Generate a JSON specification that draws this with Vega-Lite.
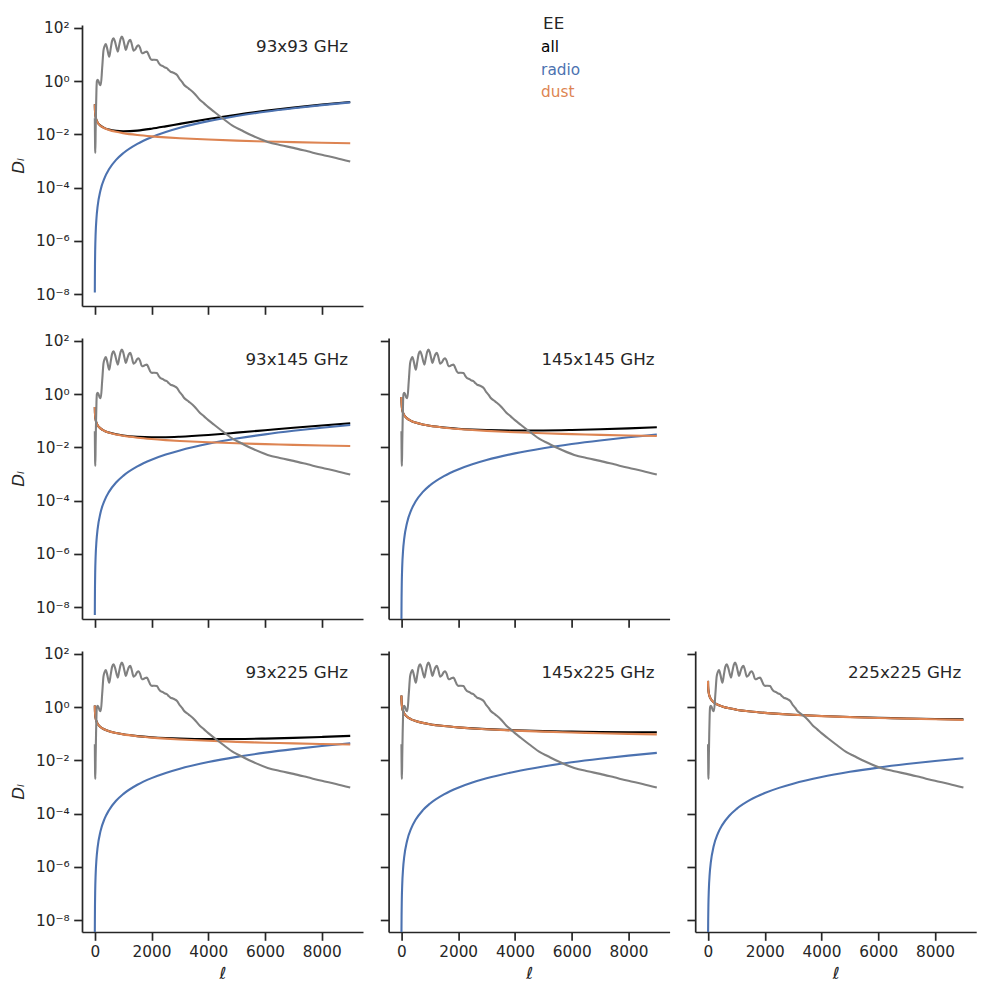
{
"$schema":"https://vega.github.io/schema/vega-lite/v6.json",
"background":"white",
"padding":{"left":10,"top":16,"right":5,"bottom":5},
"config":{"font":"DejaVu Sans","view":{"stroke":null},
"axis":{"grid":false,"domainColor":"#262626","domainWidth":1.7,"tickColor":"#262626","tickWidth":1.7,"tickSize":8.3,"labelColor":"#262626","labelFontSize":15.3,"labelPadding":4.5,"titleColor":"#262626","titleFontSize":16.7,"titleFontWeight":"normal","titleFontStyle":"italic"}},
"datasets":{
"cmb":[{"l":2,"D":0.04},{"l":6,"D":0.012},{"l":12,"D":0.003},{"l":20,"D":0.002},{"l":30,"D":0.012},{"l":45,"D":0.1},{"l":60,"D":0.5},{"l":75,"D":1.0},{"l":100,"D":1.1},{"l":130,"D":1.0},{"l":170,"D":0.75},{"l":212,"D":0.7},{"l":260,"D":3},{"l":307,"D":14},{"l":350,"D":21},{"l":390,"D":24.5},{"l":440,"D":16},{"l":508,"D":8.1},{"l":560,"D":16},{"l":610,"D":32},{"l":661,"D":40},{"l":720,"D":28},{"l":770,"D":17},{"l":812,"D":12.6},{"l":860,"D":22},{"l":910,"D":38},{"l":954,"D":46},{"l":1000,"D":37},{"l":1050,"D":22},{"l":1095,"D":14.5},{"l":1150,"D":22},{"l":1200,"D":31},{"l":1250,"D":35},{"l":1300,"D":25},{"l":1367,"D":13.7},{"l":1420,"D":15},{"l":1490,"D":20},{"l":1544,"D":22},{"l":1600,"D":17},{"l":1661,"D":11},{"l":1720,"D":11.3},{"l":1780,"D":12.3},{"l":1837,"D":12.6},{"l":1900,"D":9.5},{"l":1955,"D":7},{"l":2020,"D":6.2},{"l":2100,"D":6.3},{"l":2191,"D":6.1},{"l":2250,"D":4.8},{"l":2310,"D":4},{"l":2400,"D":3.6},{"l":2480,"D":3.2},{"l":2544,"D":3},{"l":2600,"D":2.6},{"l":2664,"D":2.25},{"l":2750,"D":2.1},{"l":2830,"D":1.9},{"l":2898,"D":1.68},{"l":3000,"D":1.15},{"l":3074,"D":0.93},{"l":3150,"D":0.71},{"l":3311,"D":0.52},{"l":3500,"D":0.35},{"l":3700,"D":0.2},{"l":3852,"D":0.145},{"l":4000,"D":0.105},{"l":4205,"D":0.07},{"l":4500,"D":0.04},{"l":4912,"D":0.0194},{"l":5147,"D":0.0145},{"l":5502,"D":0.0094},{"l":6092,"D":0.0052},{"l":6562,"D":0.0039},{"l":7000,"D":0.0031},{"l":7500,"D":0.0023},{"l":8000,"D":0.0017},{"l":8500,"D":0.0013},{"l":9000,"D":0.00095}],
"fg":[
{"s":"93x93","c":"all","l":2,"D":0.1331},{"s":"93x93","c":"all","l":4,"D":0.1008},{"s":"93x93","c":"all","l":8,"D":0.0764},{"s":"93x93","c":"all","l":15,"D":0.0594},{"s":"93x93","c":"all","l":30,"D":0.045},{"s":"93x93","c":"all","l":60,"D":0.0341},{"s":"93x93","c":"all","l":100,"D":0.0278},{"s":"93x93","c":"all","l":200,"D":0.0212},{"s":"93x93","c":"all","l":350,"D":0.0171},{"s":"93x93","c":"all","l":500,"D":0.01511},{"s":"93x93","c":"all","l":750,"D":0.01353},{"s":"93x93","c":"all","l":1000,"D":0.01303},{"s":"93x93","c":"all","l":1500,"D":0.01381},{"s":"93x93","c":"all","l":2000,"D":0.01621},{"s":"93x93","c":"all","l":2500,"D":0.01988},{"s":"93x93","c":"all","l":3000,"D":0.0247},{"s":"93x93","c":"all","l":4000,"D":0.03757},{"s":"93x93","c":"all","l":5000,"D":0.05459},{"s":"93x93","c":"all","l":6000,"D":0.07564},{"s":"93x93","c":"all","l":7000,"D":0.10067},{"s":"93x93","c":"all","l":8000,"D":0.12966},{"s":"93x93","c":"all","l":9000,"D":0.1626},
{"s":"93x93","c":"radio","l":2,"D":1.17e-8},{"s":"93x93","c":"radio","l":4,"D":3.9e-8},{"s":"93x93","c":"radio","l":8,"D":1.404e-7},{"s":"93x93","c":"radio","l":15,"D":4.68e-7},{"s":"93x93","c":"radio","l":30,"D":1.814e-6},{"s":"93x93","c":"radio","l":60,"D":7.14e-6},{"s":"93x93","c":"radio","l":100,"D":1.97e-5},{"s":"93x93","c":"radio","l":200,"D":7.84e-5},{"s":"93x93","c":"radio","l":350,"D":2.396e-4},{"s":"93x93","c":"radio","l":500,"D":4.886e-4},{"s":"93x93","c":"radio","l":750,"D":1.0986e-3},{"s":"93x93","c":"radio","l":1000,"D":1.952e-3},{"s":"93x93","c":"radio","l":1500,"D":4.391e-3},{"s":"93x93","c":"radio","l":2000,"D":7.806e-3},{"s":"93x93","c":"radio","l":2500,"D":0.012195},{"s":"93x93","c":"radio","l":3000,"D":0.01756},{"s":"93x93","c":"radio","l":4000,"D":0.03121},{"s":"93x93","c":"radio","l":5000,"D":0.04877},{"s":"93x93","c":"radio","l":6000,"D":0.07023},{"s":"93x93","c":"radio","l":7000,"D":0.09558},{"s":"93x93","c":"radio","l":8000,"D":0.12484},{"s":"93x93","c":"radio","l":9000,"D":0.158},
{"s":"93x93","c":"dust","l":2,"D":0.1331},{"s":"93x93","c":"dust","l":4,"D":0.1008},{"s":"93x93","c":"dust","l":8,"D":0.0764},{"s":"93x93","c":"dust","l":15,"D":0.0594},{"s":"93x93","c":"dust","l":30,"D":0.045},{"s":"93x93","c":"dust","l":60,"D":0.0341},{"s":"93x93","c":"dust","l":100,"D":0.0278},{"s":"93x93","c":"dust","l":200,"D":0.0211},{"s":"93x93","c":"dust","l":350,"D":0.01686},{"s":"93x93","c":"dust","l":500,"D":0.01462},{"s":"93x93","c":"dust","l":750,"D":0.01243},{"s":"93x93","c":"dust","l":1000,"D":0.01108},{"s":"93x93","c":"dust","l":1500,"D":0.00942},{"s":"93x93","c":"dust","l":2000,"D":0.0084},{"s":"93x93","c":"dust","l":2500,"D":0.00768},{"s":"93x93","c":"dust","l":3000,"D":0.00714},{"s":"93x93","c":"dust","l":4000,"D":0.00636},{"s":"93x93","c":"dust","l":5000,"D":0.00582},{"s":"93x93","c":"dust","l":6000,"D":0.00541},{"s":"93x93","c":"dust","l":7000,"D":0.00509},{"s":"93x93","c":"dust","l":8000,"D":0.00482},{"s":"93x93","c":"dust","l":9000,"D":0.0046},
{"s":"93x145","c":"all","l":2,"D":0.324},{"s":"93x145","c":"all","l":4,"D":0.2455},{"s":"93x145","c":"all","l":8,"D":0.186},{"s":"93x145","c":"all","l":15,"D":0.1447},{"s":"93x145","c":"all","l":30,"D":0.1096},{"s":"93x145","c":"all","l":60,"D":0.0831},{"s":"93x145","c":"all","l":100,"D":0.0678},{"s":"93x145","c":"all","l":200,"D":0.0514},{"s":"93x145","c":"all","l":350,"D":0.04115},{"s":"93x145","c":"all","l":500,"D":0.0358},{"s":"93x145","c":"all","l":750,"D":0.03074},{"s":"93x145","c":"all","l":1000,"D":0.02782},{"s":"93x145","c":"all","l":1500,"D":0.02486},{"s":"93x145","c":"all","l":2000,"D":0.02385},{"s":"93x145","c":"all","l":2500,"D":0.02402},{"s":"93x145","c":"all","l":3000,"D":0.02505},{"s":"93x145","c":"all","l":4000,"D":0.02912},{"s":"93x145","c":"all","l":5000,"D":0.03547},{"s":"93x145","c":"all","l":6000,"D":0.04384},{"s":"93x145","c":"all","l":7000,"D":0.05413},{"s":"93x145","c":"all","l":8000,"D":0.06626},{"s":"93x145","c":"all","l":9000,"D":0.0802},
{"s":"93x145","c":"radio","l":2,"D":5.11e-9},{"s":"93x145","c":"radio","l":4,"D":1.704e-8},{"s":"93x145","c":"radio","l":8,"D":6.13e-8},{"s":"93x145","c":"radio","l":15,"D":2.044e-7},{"s":"93x145","c":"radio","l":30,"D":7.92e-7},{"s":"93x145","c":"radio","l":60,"D":3.117e-6},{"s":"93x145","c":"radio","l":100,"D":8.6e-6},{"s":"93x145","c":"radio","l":200,"D":3.424e-5},{"s":"93x145","c":"radio","l":350,"D":1.0464e-4},{"s":"93x145","c":"radio","l":500,"D":2.134e-4},{"s":"93x145","c":"radio","l":750,"D":4.798e-4},{"s":"93x145","c":"radio","l":1000,"D":8.526e-4},{"s":"93x145","c":"radio","l":1500,"D":1.9177e-3},{"s":"93x145","c":"radio","l":2000,"D":3.409e-3},{"s":"93x145","c":"radio","l":2500,"D":5.326e-3},{"s":"93x145","c":"radio","l":3000,"D":7.669e-3},{"s":"93x145","c":"radio","l":4000,"D":0.013632},{"s":"93x145","c":"radio","l":5000,"D":0.021298},{"s":"93x145","c":"radio","l":6000,"D":0.030668},{"s":"93x145","c":"radio","l":7000,"D":0.041742},{"s":"93x145","c":"radio","l":8000,"D":0.05452},{"s":"93x145","c":"radio","l":9000,"D":0.069},
{"s":"93x145","c":"dust","l":2,"D":0.324},{"s":"93x145","c":"dust","l":4,"D":0.2455},{"s":"93x145","c":"dust","l":8,"D":0.186},{"s":"93x145","c":"dust","l":15,"D":0.1447},{"s":"93x145","c":"dust","l":30,"D":0.1096},{"s":"93x145","c":"dust","l":60,"D":0.0831},{"s":"93x145","c":"dust","l":100,"D":0.0678},{"s":"93x145","c":"dust","l":200,"D":0.0514},{"s":"93x145","c":"dust","l":350,"D":0.04105},{"s":"93x145","c":"dust","l":500,"D":0.03559},{"s":"93x145","c":"dust","l":750,"D":0.03026},{"s":"93x145","c":"dust","l":1000,"D":0.02697},{"s":"93x145","c":"dust","l":1500,"D":0.02294},{"s":"93x145","c":"dust","l":2000,"D":0.02044},{"s":"93x145","c":"dust","l":2500,"D":0.01869},{"s":"93x145","c":"dust","l":3000,"D":0.01738},{"s":"93x145","c":"dust","l":4000,"D":0.01549},{"s":"93x145","c":"dust","l":5000,"D":0.01417},{"s":"93x145","c":"dust","l":6000,"D":0.01317},{"s":"93x145","c":"dust","l":7000,"D":0.01239},{"s":"93x145","c":"dust","l":8000,"D":0.01174},{"s":"93x145","c":"dust","l":9000,"D":0.0112},
{"s":"145x145","c":"all","l":2,"D":0.7695},{"s":"145x145","c":"all","l":4,"D":0.5831},{"s":"145x145","c":"all","l":8,"D":0.4418},{"s":"145x145","c":"all","l":15,"D":0.3437},{"s":"145x145","c":"all","l":30,"D":0.2604},{"s":"145x145","c":"all","l":60,"D":0.1974},{"s":"145x145","c":"all","l":100,"D":0.1609},{"s":"145x145","c":"all","l":200,"D":0.122},{"s":"145x145","c":"all","l":350,"D":0.09754},{"s":"145x145","c":"all","l":500,"D":0.08462},{"s":"145x145","c":"all","l":750,"D":0.07208},{"s":"145x145","c":"all","l":1000,"D":0.06442},{"s":"145x145","c":"all","l":1500,"D":0.05531},{"s":"145x145","c":"all","l":2000,"D":0.05003},{"s":"145x145","c":"all","l":2500,"D":0.04672},{"s":"145x145","c":"all","l":3000,"D":0.04461},{"s":"145x145","c":"all","l":4000,"D":0.04272},{"s":"145x145","c":"all","l":5000,"D":0.04291},{"s":"145x145","c":"all","l":6000,"D":0.04461},{"s":"145x145","c":"all","l":7000,"D":0.04757},{"s":"145x145","c":"all","l":8000,"D":0.05158},{"s":"145x145","c":"all","l":9000,"D":0.0566},
{"s":"145x145","c":"radio","l":2,"D":2.22e-9},{"s":"145x145","c":"radio","l":4,"D":7.41e-9},{"s":"145x145","c":"radio","l":8,"D":2.666e-8},{"s":"145x145","c":"radio","l":15,"D":8.89e-8},{"s":"145x145","c":"radio","l":30,"D":3.444e-7},{"s":"145x145","c":"radio","l":60,"D":1.355e-6},{"s":"145x145","c":"radio","l":100,"D":3.74e-6},{"s":"145x145","c":"radio","l":200,"D":1.489e-5},{"s":"145x145","c":"radio","l":350,"D":4.55e-5},{"s":"145x145","c":"radio","l":500,"D":9.277e-5},{"s":"145x145","c":"radio","l":750,"D":2.086e-4},{"s":"145x145","c":"radio","l":1000,"D":3.707e-4},{"s":"145x145","c":"radio","l":1500,"D":8.338e-4},{"s":"145x145","c":"radio","l":2000,"D":1.482e-3},{"s":"145x145","c":"radio","l":2500,"D":2.3155e-3},{"s":"145x145","c":"radio","l":3000,"D":3.334e-3},{"s":"145x145","c":"radio","l":4000,"D":5.927e-3},{"s":"145x145","c":"radio","l":5000,"D":9.26e-3},{"s":"145x145","c":"radio","l":6000,"D":0.013334},{"s":"145x145","c":"radio","l":7000,"D":0.018149},{"s":"145x145","c":"radio","l":8000,"D":0.023704},{"s":"145x145","c":"radio","l":9000,"D":0.03},
{"s":"145x145","c":"dust","l":2,"D":0.7695},{"s":"145x145","c":"dust","l":4,"D":0.5831},{"s":"145x145","c":"dust","l":8,"D":0.4418},{"s":"145x145","c":"dust","l":15,"D":0.3437},{"s":"145x145","c":"dust","l":30,"D":0.2604},{"s":"145x145","c":"dust","l":60,"D":0.1974},{"s":"145x145","c":"dust","l":100,"D":0.1609},{"s":"145x145","c":"dust","l":200,"D":0.122},{"s":"145x145","c":"dust","l":350,"D":0.09749},{"s":"145x145","c":"dust","l":500,"D":0.08453},{"s":"145x145","c":"dust","l":750,"D":0.07187},{"s":"145x145","c":"dust","l":1000,"D":0.06405},{"s":"145x145","c":"dust","l":1500,"D":0.05448},{"s":"145x145","c":"dust","l":2000,"D":0.04855},{"s":"145x145","c":"dust","l":2500,"D":0.0444},{"s":"145x145","c":"dust","l":3000,"D":0.04128},{"s":"145x145","c":"dust","l":4000,"D":0.03679},{"s":"145x145","c":"dust","l":5000,"D":0.03365},{"s":"145x145","c":"dust","l":6000,"D":0.03128},{"s":"145x145","c":"dust","l":7000,"D":0.02942},{"s":"145x145","c":"dust","l":8000,"D":0.02788},{"s":"145x145","c":"dust","l":9000,"D":0.0266},
{"s":"93x225","c":"all","l":2,"D":1.128},{"s":"93x225","c":"all","l":4,"D":0.8549},{"s":"93x225","c":"all","l":8,"D":0.6478},{"s":"93x225","c":"all","l":15,"D":0.5039},{"s":"93x225","c":"all","l":30,"D":0.3818},{"s":"93x225","c":"all","l":60,"D":0.2894},{"s":"93x225","c":"all","l":100,"D":0.236},{"s":"93x225","c":"all","l":200,"D":0.1788},{"s":"93x225","c":"all","l":350,"D":0.143},{"s":"93x225","c":"all","l":500,"D":0.124},{"s":"93x225","c":"all","l":750,"D":0.1057},{"s":"93x225","c":"all","l":1000,"D":0.0944},{"s":"93x225","c":"all","l":1500,"D":0.0811},{"s":"93x225","c":"all","l":2000,"D":0.0734},{"s":"93x225","c":"all","l":2500,"D":0.0685},{"s":"93x225","c":"all","l":3000,"D":0.0653},{"s":"93x225","c":"all","l":4000,"D":0.0625},{"s":"93x225","c":"all","l":5000,"D":0.0628},{"s":"93x225","c":"all","l":6000,"D":0.0653},{"s":"93x225","c":"all","l":7000,"D":0.0695},{"s":"93x225","c":"all","l":8000,"D":0.0754},{"s":"93x225","c":"all","l":9000,"D":0.0826},
{"s":"93x225","c":"radio","l":2,"D":3.23e-9},{"s":"93x225","c":"radio","l":4,"D":1.077e-8},{"s":"93x225","c":"radio","l":8,"D":3.875e-8},{"s":"93x225","c":"radio","l":15,"D":1.292e-7},{"s":"93x225","c":"radio","l":30,"D":5.005e-7},{"s":"93x225","c":"radio","l":60,"D":1.97e-6},{"s":"93x225","c":"radio","l":100,"D":5.436e-6},{"s":"93x225","c":"radio","l":200,"D":2.163e-5},{"s":"93x225","c":"radio","l":350,"D":6.612e-5},{"s":"93x225","c":"radio","l":500,"D":1.3482e-4},{"s":"93x225","c":"radio","l":750,"D":3.0315e-4},{"s":"93x225","c":"radio","l":1000,"D":5.388e-4},{"s":"93x225","c":"radio","l":1500,"D":1.2118e-3},{"s":"93x225","c":"radio","l":2000,"D":2.1539e-3},{"s":"93x225","c":"radio","l":2500,"D":3.3652e-3},{"s":"93x225","c":"radio","l":3000,"D":4.8457e-3},{"s":"93x225","c":"radio","l":4000,"D":8.614e-3},{"s":"93x225","c":"radio","l":5000,"D":0.013458},{"s":"93x225","c":"radio","l":6000,"D":0.019379},{"s":"93x225","c":"radio","l":7000,"D":0.026376},{"s":"93x225","c":"radio","l":8000,"D":0.03445},{"s":"93x225","c":"radio","l":9000,"D":0.0436},
{"s":"93x225","c":"dust","l":2,"D":1.128},{"s":"93x225","c":"dust","l":4,"D":0.8549},{"s":"93x225","c":"dust","l":8,"D":0.6478},{"s":"93x225","c":"dust","l":15,"D":0.5039},{"s":"93x225","c":"dust","l":30,"D":0.3818},{"s":"93x225","c":"dust","l":60,"D":0.2894},{"s":"93x225","c":"dust","l":100,"D":0.236},{"s":"93x225","c":"dust","l":200,"D":0.1788},{"s":"93x225","c":"dust","l":350,"D":0.1429},{"s":"93x225","c":"dust","l":500,"D":0.1239},{"s":"93x225","c":"dust","l":750,"D":0.1054},{"s":"93x225","c":"dust","l":1000,"D":0.0939},{"s":"93x225","c":"dust","l":1500,"D":0.0799},{"s":"93x225","c":"dust","l":2000,"D":0.0712},{"s":"93x225","c":"dust","l":2500,"D":0.0651},{"s":"93x225","c":"dust","l":3000,"D":0.0605},{"s":"93x225","c":"dust","l":4000,"D":0.0539},{"s":"93x225","c":"dust","l":5000,"D":0.0493},{"s":"93x225","c":"dust","l":6000,"D":0.0459},{"s":"93x225","c":"dust","l":7000,"D":0.0431},{"s":"93x225","c":"dust","l":8000,"D":0.0409},{"s":"93x225","c":"dust","l":9000,"D":0.039},
{"s":"145x225","c":"all","l":2,"D":2.719},{"s":"145x225","c":"all","l":4,"D":2.06},{"s":"145x225","c":"all","l":8,"D":1.561},{"s":"145x225","c":"all","l":15,"D":1.214},{"s":"145x225","c":"all","l":30,"D":0.9203},{"s":"145x225","c":"all","l":60,"D":0.6975},{"s":"145x225","c":"all","l":100,"D":0.5687},{"s":"145x225","c":"all","l":200,"D":0.431},{"s":"145x225","c":"all","l":350,"D":0.3445},{"s":"145x225","c":"all","l":500,"D":0.2988},{"s":"145x225","c":"all","l":750,"D":0.2541},{"s":"145x225","c":"all","l":1000,"D":0.2266},{"s":"145x225","c":"all","l":1500,"D":0.193},{"s":"145x225","c":"all","l":2000,"D":0.1725},{"s":"145x225","c":"all","l":2500,"D":0.1584},{"s":"145x225","c":"all","l":3000,"D":0.148},{"s":"145x225","c":"all","l":4000,"D":0.1338},{"s":"145x225","c":"all","l":5000,"D":0.1248},{"s":"145x225","c":"all","l":6000,"D":0.1189},{"s":"145x225","c":"all","l":7000,"D":0.1155},{"s":"145x225","c":"all","l":8000,"D":0.1135},{"s":"145x225","c":"all","l":9000,"D":0.113},
{"s":"145x225","c":"radio","l":2,"D":1.407e-9},{"s":"145x225","c":"radio","l":4,"D":4.69e-9},{"s":"145x225","c":"radio","l":8,"D":1.689e-8},{"s":"145x225","c":"radio","l":15,"D":5.63e-8},{"s":"145x225","c":"radio","l":30,"D":2.181e-7},{"s":"145x225","c":"radio","l":60,"D":8.58e-7},{"s":"145x225","c":"radio","l":100,"D":2.369e-6},{"s":"145x225","c":"radio","l":200,"D":9.43e-6},{"s":"145x225","c":"radio","l":350,"D":2.881e-5},{"s":"145x225","c":"radio","l":500,"D":5.875e-5},{"s":"145x225","c":"radio","l":750,"D":1.3211e-4},{"s":"145x225","c":"radio","l":1000,"D":2.348e-4},{"s":"145x225","c":"radio","l":1500,"D":5.281e-4},{"s":"145x225","c":"radio","l":2000,"D":9.386e-4},{"s":"145x225","c":"radio","l":2500,"D":1.4665e-3},{"s":"145x225","c":"radio","l":3000,"D":2.1117e-3},{"s":"145x225","c":"radio","l":4000,"D":3.754e-3},{"s":"145x225","c":"radio","l":5000,"D":5.865e-3},{"s":"145x225","c":"radio","l":6000,"D":8.445e-3},{"s":"145x225","c":"radio","l":7000,"D":0.011494},{"s":"145x225","c":"radio","l":8000,"D":0.015013},{"s":"145x225","c":"radio","l":9000,"D":0.019},
{"s":"145x225","c":"dust","l":2,"D":2.719},{"s":"145x225","c":"dust","l":4,"D":2.06},{"s":"145x225","c":"dust","l":8,"D":1.561},{"s":"145x225","c":"dust","l":15,"D":1.214},{"s":"145x225","c":"dust","l":30,"D":0.9203},{"s":"145x225","c":"dust","l":60,"D":0.6975},{"s":"145x225","c":"dust","l":100,"D":0.5687},{"s":"145x225","c":"dust","l":200,"D":0.431},{"s":"145x225","c":"dust","l":350,"D":0.3445},{"s":"145x225","c":"dust","l":500,"D":0.2987},{"s":"145x225","c":"dust","l":750,"D":0.254},{"s":"145x225","c":"dust","l":1000,"D":0.2264},{"s":"145x225","c":"dust","l":1500,"D":0.1925},{"s":"145x225","c":"dust","l":2000,"D":0.1716},{"s":"145x225","c":"dust","l":2500,"D":0.1569},{"s":"145x225","c":"dust","l":3000,"D":0.1459},{"s":"145x225","c":"dust","l":4000,"D":0.13},{"s":"145x225","c":"dust","l":5000,"D":0.1189},{"s":"145x225","c":"dust","l":6000,"D":0.1105},{"s":"145x225","c":"dust","l":7000,"D":0.104},{"s":"145x225","c":"dust","l":8000,"D":0.0985},{"s":"145x225","c":"dust","l":9000,"D":0.094},
{"s":"225x225","c":"all","l":2,"D":9.547},{"s":"225x225","c":"all","l":4,"D":7.234},{"s":"225x225","c":"all","l":8,"D":5.481},{"s":"225x225","c":"all","l":15,"D":4.264},{"s":"225x225","c":"all","l":30,"D":3.231},{"s":"225x225","c":"all","l":60,"D":2.449},{"s":"225x225","c":"all","l":100,"D":1.997},{"s":"225x225","c":"all","l":200,"D":1.513},{"s":"225x225","c":"all","l":350,"D":1.2095},{"s":"225x225","c":"all","l":500,"D":1.0487},{"s":"225x225","c":"all","l":750,"D":0.8918},{"s":"225x225","c":"all","l":1000,"D":0.7947},{"s":"225x225","c":"all","l":1500,"D":0.6761},{"s":"225x225","c":"all","l":2000,"D":0.6029},{"s":"225x225","c":"all","l":2500,"D":0.5517},{"s":"225x225","c":"all","l":3000,"D":0.5135},{"s":"225x225","c":"all","l":4000,"D":0.4588},{"s":"225x225","c":"all","l":5000,"D":0.4212},{"s":"225x225","c":"all","l":6000,"D":0.3934},{"s":"225x225","c":"all","l":7000,"D":0.3723},{"s":"225x225","c":"all","l":8000,"D":0.3553},{"s":"225x225","c":"all","l":9000,"D":0.342},
{"s":"225x225","c":"radio","l":2,"D":8.89e-10},{"s":"225x225","c":"radio","l":4,"D":2.963e-9},{"s":"225x225","c":"radio","l":8,"D":1.067e-8},{"s":"225x225","c":"radio","l":15,"D":3.556e-8},{"s":"225x225","c":"radio","l":30,"D":1.378e-7},{"s":"225x225","c":"radio","l":60,"D":5.42e-7},{"s":"225x225","c":"radio","l":100,"D":1.496e-6},{"s":"225x225","c":"radio","l":200,"D":5.954e-6},{"s":"225x225","c":"radio","l":350,"D":1.82e-5},{"s":"225x225","c":"radio","l":500,"D":3.711e-5},{"s":"225x225","c":"radio","l":750,"D":8.344e-5},{"s":"225x225","c":"radio","l":1000,"D":1.4828e-4},{"s":"225x225","c":"radio","l":1500,"D":3.335e-4},{"s":"225x225","c":"radio","l":2000,"D":5.928e-4},{"s":"225x225","c":"radio","l":2500,"D":9.262e-4},{"s":"225x225","c":"radio","l":3000,"D":1.3337e-3},{"s":"225x225","c":"radio","l":4000,"D":2.3707e-3},{"s":"225x225","c":"radio","l":5000,"D":3.704e-3},{"s":"225x225","c":"radio","l":6000,"D":5.334e-3},{"s":"225x225","c":"radio","l":7000,"D":7.26e-3},{"s":"225x225","c":"radio","l":8000,"D":9.482e-3},{"s":"225x225","c":"radio","l":9000,"D":0.012},
{"s":"225x225","c":"dust","l":2,"D":9.547},{"s":"225x225","c":"dust","l":4,"D":7.234},{"s":"225x225","c":"dust","l":8,"D":5.481},{"s":"225x225","c":"dust","l":15,"D":4.264},{"s":"225x225","c":"dust","l":30,"D":3.231},{"s":"225x225","c":"dust","l":60,"D":2.449},{"s":"225x225","c":"dust","l":100,"D":1.997},{"s":"225x225","c":"dust","l":200,"D":1.513},{"s":"225x225","c":"dust","l":350,"D":1.2095},{"s":"225x225","c":"dust","l":500,"D":1.0487},{"s":"225x225","c":"dust","l":750,"D":0.8917},{"s":"225x225","c":"dust","l":1000,"D":0.7946},{"s":"225x225","c":"dust","l":1500,"D":0.6758},{"s":"225x225","c":"dust","l":2000,"D":0.6023},{"s":"225x225","c":"dust","l":2500,"D":0.5508},{"s":"225x225","c":"dust","l":3000,"D":0.5122},{"s":"225x225","c":"dust","l":4000,"D":0.4564},{"s":"225x225","c":"dust","l":5000,"D":0.4175},{"s":"225x225","c":"dust","l":6000,"D":0.3881},{"s":"225x225","c":"dust","l":7000,"D":0.365},{"s":"225x225","c":"dust","l":8000,"D":0.3458},{"s":"225x225","c":"dust","l":9000,"D":0.33}
]},
"columns":3,
"bounds":"flush",
"spacing":{"row":32,"column":25.6},
"concat":[
{"width":281,"height":281,"layer":[
 {"data":{"name":"fg"},"transform":[{"filter":"datum.s === '93x93'"}],"mark":{"type":"line","strokeWidth":2.1,"clip":true,"interpolate":"monotone"},
  "encoding":{"x":{"field":"l","type":"quantitative","scale":{"domain":[-450,9450],"nice":false,"zero":false},"axis":{"values":[0,2000,4000,6000,8000],"labels":false,"title":null}},
   "y":{"field":"D","type":"quantitative","scale":{"type":"log","domain":[3.64e-9,126],"nice":false},"axis":{"values":[1e-8,1e-6,1e-4,1e-2,1,100],"labelExpr":"datum.value > 10 ? '10²' : datum.value > 0.1 ? '10⁰' : datum.value > 0.001 ? '10⁻²' : datum.value > 0.00001 ? '10⁻⁴' : datum.value > 0.0000001 ? '10⁻⁶' : '10⁻⁸'","title":"Dₗ","titlePadding":8}},
   "color":{"field":"c","type":"nominal","scale":{"domain":["all","radio","dust"],"range":["#000000","#4c72b0","#dd8452"]},"legend":null}}},
 {"data":{"name":"cmb"},"mark":{"type":"line","color":"#808080","strokeWidth":2.1,"clip":true,"interpolate":"monotone"},"encoding":{"x":{"field":"l","type":"quantitative"},"y":{"field":"D","type":"quantitative"}}},
 {"data":{"values":[{"t":"93x93 GHz"}]},"mark":{"type":"text","align":"right","baseline":"alphabetic","fontSize":16.7,"color":"#262626"},"encoding":{"x":{"datum":8920},"y":{"datum":12.6},"text":{"field":"t"}}}
]},
{"width":281,"height":281,"data":{"values":[{"t":"EE"},{"t":"all"},{"t":"radio"},{"t":"dust"}]},"layer":[
 {"transform":[{"filter":"datum.t === 'EE'"}],"mark":{"type":"text","align":"left","baseline":"alphabetic","fontSize":16.7,"dx":14,"color":"#262626"},
  "encoding":{"y":{"field":"t","type":"nominal","scale":{"type":"point","domain":["EE","all","radio","dust"],"range":[4.3,72.3],"padding":0},"axis":null},"text":{"field":"t"}}},
 {"transform":[{"filter":"datum.t !== 'EE'"}],"mark":{"type":"text","align":"left","baseline":"alphabetic","fontSize":15.3,"dx":12},
  "encoding":{"y":{"field":"t","type":"nominal","axis":null},"text":{"field":"t"},"color":{"field":"t","type":"nominal","scale":{"domain":["all","radio","dust"],"range":["#000000","#4c72b0","#dd8452"]},"legend":null}}}
]},
{"width":281,"height":281,"data":{"values":[]},"mark":"text"},
{"width":281,"height":281,"layer":[
 {"data":{"name":"fg"},"transform":[{"filter":"datum.s === '93x145'"}],"mark":{"type":"line","strokeWidth":2.1,"clip":true,"interpolate":"monotone"},
  "encoding":{"x":{"field":"l","type":"quantitative","scale":{"domain":[-450,9450],"nice":false,"zero":false},"axis":{"values":[0,2000,4000,6000,8000],"labels":false,"title":null}},
   "y":{"field":"D","type":"quantitative","scale":{"type":"log","domain":[3.64e-9,126],"nice":false},"axis":{"values":[1e-8,1e-6,1e-4,1e-2,1,100],"labelExpr":"datum.value > 10 ? '10²' : datum.value > 0.1 ? '10⁰' : datum.value > 0.001 ? '10⁻²' : datum.value > 0.00001 ? '10⁻⁴' : datum.value > 0.0000001 ? '10⁻⁶' : '10⁻⁸'","title":"Dₗ","titlePadding":8}},
   "color":{"field":"c","type":"nominal","scale":{"domain":["all","radio","dust"],"range":["#000000","#4c72b0","#dd8452"]},"legend":null}}},
 {"data":{"name":"cmb"},"mark":{"type":"line","color":"#808080","strokeWidth":2.1,"clip":true,"interpolate":"monotone"},"encoding":{"x":{"field":"l","type":"quantitative"},"y":{"field":"D","type":"quantitative"}}},
 {"data":{"values":[{"t":"93x145 GHz"}]},"mark":{"type":"text","align":"right","baseline":"alphabetic","fontSize":16.7,"color":"#262626"},"encoding":{"x":{"datum":8920},"y":{"datum":12.6},"text":{"field":"t"}}}
]},
{"width":281,"height":281,"layer":[
 {"data":{"name":"fg"},"transform":[{"filter":"datum.s === '145x145'"}],"mark":{"type":"line","strokeWidth":2.1,"clip":true,"interpolate":"monotone"},
  "encoding":{"x":{"field":"l","type":"quantitative","scale":{"domain":[-450,9450],"nice":false,"zero":false},"axis":{"values":[0,2000,4000,6000,8000],"labels":false,"title":null}},
   "y":{"field":"D","type":"quantitative","scale":{"type":"log","domain":[3.64e-9,126],"nice":false},"axis":{"values":[1e-8,1e-6,1e-4,1e-2,1,100],"labels":false,"title":null}},
   "color":{"field":"c","type":"nominal","scale":{"domain":["all","radio","dust"],"range":["#000000","#4c72b0","#dd8452"]},"legend":null}}},
 {"data":{"name":"cmb"},"mark":{"type":"line","color":"#808080","strokeWidth":2.1,"clip":true,"interpolate":"monotone"},"encoding":{"x":{"field":"l","type":"quantitative"},"y":{"field":"D","type":"quantitative"}}},
 {"data":{"values":[{"t":"145x145 GHz"}]},"mark":{"type":"text","align":"right","baseline":"alphabetic","fontSize":16.7,"color":"#262626"},"encoding":{"x":{"datum":8920},"y":{"datum":12.6},"text":{"field":"t"}}}
]},
{"width":281,"height":281,"data":{"values":[]},"mark":"text"},
{"width":281,"height":281,"layer":[
 {"data":{"name":"fg"},"transform":[{"filter":"datum.s === '93x225'"}],"mark":{"type":"line","strokeWidth":2.1,"clip":true,"interpolate":"monotone"},
  "encoding":{"x":{"field":"l","type":"quantitative","scale":{"domain":[-450,9450],"nice":false,"zero":false},"axis":{"values":[0,2000,4000,6000,8000],"format":"d","title":"ℓ","titlePadding":5}},
   "y":{"field":"D","type":"quantitative","scale":{"type":"log","domain":[3.64e-9,126],"nice":false},"axis":{"values":[1e-8,1e-6,1e-4,1e-2,1,100],"labelExpr":"datum.value > 10 ? '10²' : datum.value > 0.1 ? '10⁰' : datum.value > 0.001 ? '10⁻²' : datum.value > 0.00001 ? '10⁻⁴' : datum.value > 0.0000001 ? '10⁻⁶' : '10⁻⁸'","title":"Dₗ","titlePadding":8}},
   "color":{"field":"c","type":"nominal","scale":{"domain":["all","radio","dust"],"range":["#000000","#4c72b0","#dd8452"]},"legend":null}}},
 {"data":{"name":"cmb"},"mark":{"type":"line","color":"#808080","strokeWidth":2.1,"clip":true,"interpolate":"monotone"},"encoding":{"x":{"field":"l","type":"quantitative"},"y":{"field":"D","type":"quantitative"}}},
 {"data":{"values":[{"t":"93x225 GHz"}]},"mark":{"type":"text","align":"right","baseline":"alphabetic","fontSize":16.7,"color":"#262626"},"encoding":{"x":{"datum":8920},"y":{"datum":12.6},"text":{"field":"t"}}}
]},
{"width":281,"height":281,"layer":[
 {"data":{"name":"fg"},"transform":[{"filter":"datum.s === '145x225'"}],"mark":{"type":"line","strokeWidth":2.1,"clip":true,"interpolate":"monotone"},
  "encoding":{"x":{"field":"l","type":"quantitative","scale":{"domain":[-450,9450],"nice":false,"zero":false},"axis":{"values":[0,2000,4000,6000,8000],"format":"d","title":"ℓ","titlePadding":5}},
   "y":{"field":"D","type":"quantitative","scale":{"type":"log","domain":[3.64e-9,126],"nice":false},"axis":{"values":[1e-8,1e-6,1e-4,1e-2,1,100],"labels":false,"title":null}},
   "color":{"field":"c","type":"nominal","scale":{"domain":["all","radio","dust"],"range":["#000000","#4c72b0","#dd8452"]},"legend":null}}},
 {"data":{"name":"cmb"},"mark":{"type":"line","color":"#808080","strokeWidth":2.1,"clip":true,"interpolate":"monotone"},"encoding":{"x":{"field":"l","type":"quantitative"},"y":{"field":"D","type":"quantitative"}}},
 {"data":{"values":[{"t":"145x225 GHz"}]},"mark":{"type":"text","align":"right","baseline":"alphabetic","fontSize":16.7,"color":"#262626"},"encoding":{"x":{"datum":8920},"y":{"datum":12.6},"text":{"field":"t"}}}
]},
{"width":281,"height":281,"layer":[
 {"data":{"name":"fg"},"transform":[{"filter":"datum.s === '225x225'"}],"mark":{"type":"line","strokeWidth":2.1,"clip":true,"interpolate":"monotone"},
  "encoding":{"x":{"field":"l","type":"quantitative","scale":{"domain":[-450,9450],"nice":false,"zero":false},"axis":{"values":[0,2000,4000,6000,8000],"format":"d","title":"ℓ","titlePadding":5}},
   "y":{"field":"D","type":"quantitative","scale":{"type":"log","domain":[3.64e-9,126],"nice":false},"axis":{"values":[1e-8,1e-6,1e-4,1e-2,1,100],"labels":false,"title":null}},
   "color":{"field":"c","type":"nominal","scale":{"domain":["all","radio","dust"],"range":["#000000","#4c72b0","#dd8452"]},"legend":null}}},
 {"data":{"name":"cmb"},"mark":{"type":"line","color":"#808080","strokeWidth":2.1,"clip":true,"interpolate":"monotone"},"encoding":{"x":{"field":"l","type":"quantitative"},"y":{"field":"D","type":"quantitative"}}},
 {"data":{"values":[{"t":"225x225 GHz"}]},"mark":{"type":"text","align":"right","baseline":"alphabetic","fontSize":16.7,"color":"#262626"},"encoding":{"x":{"datum":8920},"y":{"datum":12.6},"text":{"field":"t"}}}
]}
]
}
